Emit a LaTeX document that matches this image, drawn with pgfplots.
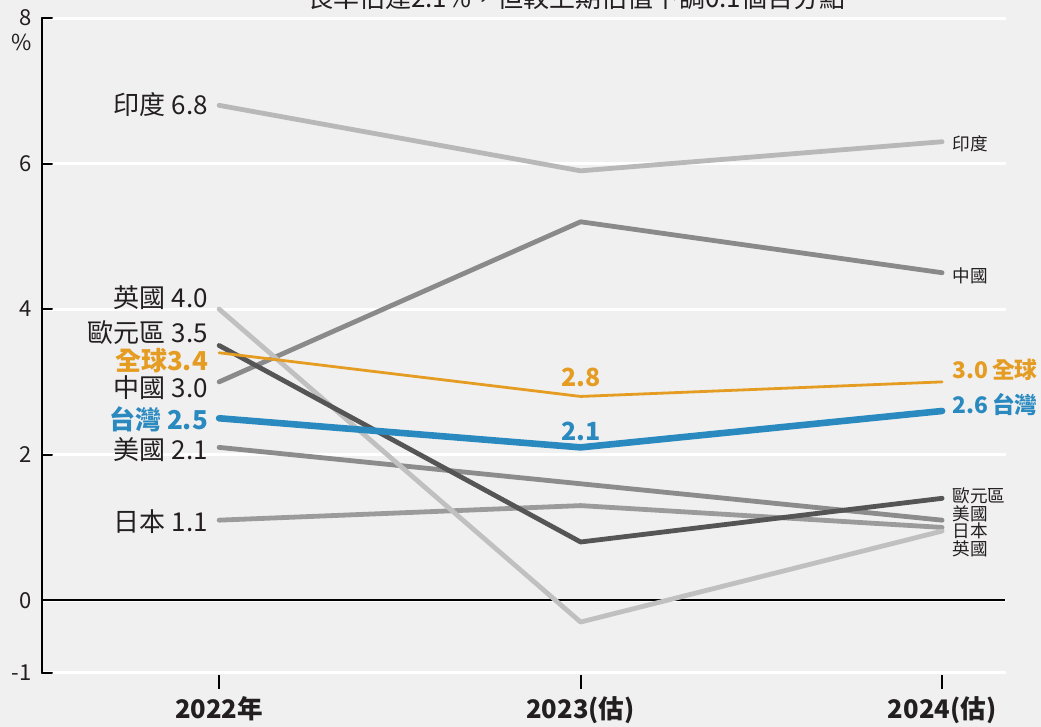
\documentclass[border=0pt]{standalone}
\usepackage{pgfplots}
\pgfplotsset{compat=1.18}
\usepackage{fontspec}
\setmainfont{Noto Sans CJK TC}
\definecolor{bgc}{HTML}{F0F0F0}
\definecolor{txt}{HTML}{231F20}
\definecolor{orng}{HTML}{E59C22}
\definecolor{blu}{HTML}{2A8AC0}
\definecolor{cIN}{HTML}{B8B8B8}
\definecolor{cCN}{HTML}{8A8A8A}
\definecolor{cUK}{HTML}{C0C0C0}
\definecolor{cEU}{HTML}{555555}
\definecolor{cUS}{HTML}{8C8C8C}
\definecolor{cJP}{HTML}{9B9B9B}
\newcommand{\lab}{\fontsize{13}{13}\selectfont}
\newcommand{\sml}{\fontsize{8.8}{8.8}\selectfont}
\newcommand{\bld}{\fontsize{11.4}{11.4}\selectfont\bfseries}
\newcommand{\midf}{\fontsize{12.5}{12.5}\selectfont\bfseries}
\pgfplotstableread{
x  IN   CN   UK    EU   WD   TW   US   JP
0  6.8  3.0  4.0   3.5  3.4  2.5  2.1  1.1
1  5.9  5.2  -0.3  0.8  2.8  2.1  1.6  1.3
2  6.3  4.5  0.95  1.4  3.0  2.6  1.1  1.0
}\gdp
\begin{document}
\begin{tikzpicture}
\fill[bgc] (0pt,0pt) rectangle (520.5pt,363.5pt);
\useasboundingbox (0pt,0pt) rectangle (520.5pt,363.5pt);
\node[anchor=base west, font=\fontsize{13}{13}\selectfont, text=txt] at (150pt,359.5pt) {長率估達2.1\%，但較上期估值下調0.1個百分點};
\begin{axis}[
  at={(21pt,27pt)}, anchor=south west,
  scale only axis, width=481.5pt, height=327.5pt,
  xmin=-0.49, xmax=2.174, ymin=-1, ymax=8,
  axis y line*=left, axis x line*=bottom,
  x axis line style={draw=none},
  y axis line style={line width=1pt, black},
  ytick={-1,0,2,4,6,8},
  xtick={0,1,2}, xticklabels={2022年,2023(估),2024(估)},
  tick align=inside,
  major tick length=5pt,
  ytick style={line width=1pt, black},
  xtick style={draw=none},
  ymajorgrids, grid style={white, line width=1.5pt},
  /pgf/number format/assume math mode=true,
  yticklabel style={font=\fontsize{11}{11}\selectfont, text=txt, anchor=east, inner sep=0pt, xshift=-5pt},
  xticklabel style={font=\fontsize{12.8}{12.8}\selectfont\bfseries, text=txt, anchor=base, inner sep=0pt, yshift=-23pt},
  clip=false,
  line cap=round, line join=round,
]
\addplot[black, line width=1pt, line cap=butt] coordinates {(-0.49,0) (2.174,0)};
\addplot[black, line width=1pt, line cap=butt] coordinates {(0,-1.03) (0,-1.22)};
\addplot[black, line width=1pt, line cap=butt] coordinates {(1,-1.03) (1,-1.22)};
\addplot[black, line width=1pt, line cap=butt] coordinates {(2,-1.03) (2,-1.22)};
\addplot[cIN, line width=2.4pt] table[x=x, y=IN] {\gdp};
\addplot[cCN, line width=2.4pt] table[x=x, y=CN] {\gdp};
\addplot[cUS, line width=2.4pt] table[x=x, y=US] {\gdp};
\addplot[cJP, line width=2.4pt] table[x=x, y=JP] {\gdp};
\addplot[cUK, line width=2.4pt] table[x=x, y=UK] {\gdp};
\addplot[cEU, line width=2.4pt] table[x=x, y=EU] {\gdp};
\addplot[orng, line width=1.4pt] table[x=x, y=WD] {\gdp};
\addplot[blu, line width=3.3pt] table[x=x, y=TW] {\gdp};
% left labels
\node[anchor=base east, font=\lab, text=txt, inner sep=0pt] at (axis cs:-0.03,6.68) {印度 6.8};
\node[anchor=base east, font=\lab, text=txt, inner sep=0pt] at (axis cs:-0.03,4.025) {英國 4.0};
\node[anchor=base east, font=\lab, text=txt, inner sep=0pt] at (axis cs:-0.03,3.54) {歐元區 3.5};
\node[anchor=base east, font=\lab\bfseries, text=orng, inner sep=0pt] at (axis cs:-0.03,3.16) {全球3.4};
\node[anchor=base east, font=\lab, text=txt, inner sep=0pt] at (axis cs:-0.03,2.79) {中國 3.0};
\node[anchor=base east, font=\lab\bfseries, text=blu, inner sep=0pt] at (axis cs:-0.03,2.35) {台灣 2.5};
\node[anchor=base east, font=\lab, text=txt, inner sep=0pt] at (axis cs:-0.03,1.94) {美國 2.1};
\node[anchor=base east, font=\lab, text=txt, inner sep=0pt] at (axis cs:-0.03,0.95) {日本 1.1};
% middle labels
\node[anchor=base, font=\midf, text=orng, inner sep=0pt] at (axis cs:1,2.94) {2.8};
\node[anchor=base, font=\midf, text=blu, inner sep=0pt] at (axis cs:1,2.20) {2.1};
% right labels
\node[anchor=base west, font=\sml, text=txt, inner sep=0pt] at (axis cs:2.028,6.18) {印度};
\node[anchor=base west, font=\sml, text=txt, inner sep=0pt] at (axis cs:2.028,4.37) {中國};
\node[anchor=base west, font=\bld, text=orng, inner sep=0pt] at (axis cs:2.028,3.05) {3.0\,全球};
\node[anchor=base west, font=\bld, text=blu, inner sep=0pt] at (axis cs:2.028,2.57) {2.6\,台灣};
\node[anchor=base west, font=\sml, text=txt, inner sep=0pt] at (axis cs:2.028,1.346) {歐元區};
\node[anchor=base west, font=\sml, text=txt, inner sep=0pt] at (axis cs:2.028,1.099) {美國};
\node[anchor=base west, font=\sml, text=txt, inner sep=0pt] at (axis cs:2.028,0.865) {日本};
\node[anchor=base west, font=\sml, text=txt, inner sep=0pt] at (axis cs:2.028,0.618) {英國};
\end{axis}
\node[anchor=base, font=\fontsize{11}{11}\selectfont, text=txt, inner sep=0pt] at (11pt,338pt) {\%};
\end{tikzpicture}
\end{document}
